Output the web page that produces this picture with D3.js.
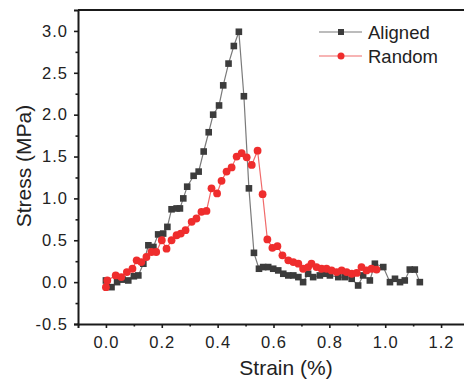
<!DOCTYPE html>
<html>
<head>
    <meta charset="utf-8">
    <style>
        body {
            margin: 0;
            background: white;
        }
        svg {
            display: block;
            font-family: Arial, 'Liberation Sans', sans-serif;
        }
        .tick text {
            font-size: 16.5px;
            letter-spacing: 1px;
            fill: #222;
        }
    </style>
</head>
<body>
    <svg width="464" height="387" id="chart"></svg>

<script src="https://d3js.org/d3.v7.min.js"></script>
<script>

    // Aligned sample
    let alignedStrain = [0.00, 0.02, 0.04, 0.06, 0.08, 0.10, 0.116, 0.134, 0.152, 0.17, 0.187, 0.205, 0.22, 0.235, 0.253, 0.265,
        0.277, 0.291, 0.314, 0.332, 0.350, 0.368, 0.384, 0.405, 0.420, 0.439, 0.458, 0.476, 0.494, 0.512, 0.530, 0.548,
        0.563, 0.581, 0.599, 0.617, 0.635, 0.653, 0.671, 0.689, 0.706, 0.724, 0.742, 0.766, 0.784, 0.802, 0.832, 0.856,
        0.880, 0.903, 0.921, 0.945, 0.963, 0.993, 1.017, 1.035, 1.053, 1.070, 1.088, 1.106, 1.124]
    let alignedStress = [0.02, -0.06, 0.00, 0.03, 0.02, 0.07, 0.08, 0.22, 0.44, 0.42, 0.57, 0.58, 0.66, 0.87, 0.88, 0.88,
        1.00, 1.14, 1.27, 1.32, 1.56, 1.79, 2.00, 2.11, 2.35, 2.61, 2.82, 2.99, 2.22, 1.12, 0.35, 0.16,
        0.18, 0.18, 0.16, 0.14, 0.10, 0.08, 0.08, 0.06, 0.00, 0.10, 0.06, 0.08, 0.10, 0.08, 0.06, 0.06,
        0.04, -0.04, 0.08, 0.02, 0.22, 0.18, 0.00, 0.04, 0.00, 0.02, 0.15, 0.15, 0.00]

    // Random sample
    let randomStrain = [0.000, 0.005, 0.035, 0.055, 0.075, 0.095, 0.110, 0.127, 0.145, 0.163, 0.180, 0.200, 0.217, 0.235,
        0.253, 0.268, 0.285, 0.307, 0.324, 0.342, 0.360, 0.378, 0.398, 0.414, 0.432, 0.450, 0.468, 0.486, 0.504,
        0.522, 0.543, 0.561, 0.578, 0.596, 0.614, 0.632, 0.653, 0.671, 0.689, 0.706, 0.724, 0.736, 0.754, 0.772,
        0.790, 0.808, 0.826, 0.844, 0.862, 0.880, 0.898, 0.915, 0.933, 0.951, 0.969]
    let randomStress = [-0.06, 0.02, 0.08, 0.06, 0.12, 0.16, 0.26, 0.24, 0.30, 0.36, 0.36, 0.50, 0.40, 0.50,
        0.56, 0.58, 0.62, 0.72, 0.76, 0.84, 0.85, 1.12, 1.06, 1.21, 1.32, 1.37, 1.50, 1.54, 1.49,
        1.40, 1.57, 1.05, 0.51, 0.41, 0.43, 0.32, 0.26, 0.24, 0.22, 0.16, 0.18, 0.22, 0.18, 0.16,
        0.16, 0.14, 0.12, 0.14, 0.12, 0.10, 0.11, 0.18, 0.14, 0.16, 0.15]

    let xTicks = [0.0, 0.2, 0.4, 0.6, 0.8, 1.0, 1.2]
    let xMinor = [0.1, 0.3, 0.5, 0.7, 0.9, 1.1]
    let yTicks = [-0.5, 0.0, 0.5, 1.0, 1.5, 2.0, 2.5, 3.0]
    let yMinor = [-0.25, 0.25, 0.75, 1.25, 1.75, 2.25, 2.75]

    let seriesNames = ["Aligned", "Random"]

    let plotLeft = 78, plotRight = 469, plotTop = 10, plotBottom = 324

    let svg = d3.select("#chart")

    let x = d3.scaleLinear().domain([-0.1, 1.3]).range([plotLeft, plotRight])
    let y = d3.scaleLinear().domain([-0.5, 3.25]).range([plotBottom, plotTop])

    let aligned = alignedStrain.map((d, i) => ({ x: d, y: alignedStress[i] }))
    let random = randomStrain.map((d, i) => ({ x: d, y: randomStress[i] }))

    let line = d3.line().x(d => x(d.x)).y(d => y(d.y))

    // plain hyphen for negatives, like the original
    let fmt = d => d.toFixed(1)

    // lines first, markers on top
    svg.append("path")
        .datum(aligned)
        .attr("d", line)
        .attr("fill", "none")
        .attr("stroke", "#7a7a7a")
        .attr("stroke-width", 1.2)

    svg.append("path")
        .datum(random)
        .attr("d", line)
        .attr("fill", "none")
        .attr("stroke", "#f06a6a")
        .attr("stroke-width", 1.2)

    svg.append("g")
        .selectAll("rect")
        .data(aligned)
        .join("rect")
        .attr("x", d => x(d.x) - 3.3)
        .attr("y", d => y(d.y) - 3.3)
        .attr("width", 6.6)
        .attr("height", 6.6)
        .attr("fill", "#3c3c3c")

    svg.append("g")
        .selectAll("circle")
        .data(random)
        .join("circle")
        .attr("cx", d => x(d.x))
        .attr("cy", d => y(d.y))
        .attr("r", 3.9)
        .attr("fill", "#ef2d2d")

    // axes
    svg.append("g")
        .attr("transform", "translate(0," + plotBottom + ")")
        .call(d3.axisBottom(x).tickValues(xTicks).tickFormat(fmt).tickSize(4).tickPadding(8))
    svg.append("g")
        .attr("transform", "translate(0," + plotBottom + ")")
        .call(d3.axisBottom(x).tickValues(xMinor).tickFormat("").tickSize(2.5))
        .select(".domain").remove()

    svg.append("g")
        .attr("transform", "translate(" + plotLeft + ",0)")
        .call(d3.axisLeft(y).tickValues(yTicks).tickFormat(fmt).tickSize(4).tickPadding(6))
    svg.append("g")
        .attr("transform", "translate(" + plotLeft + ",0)")
        .call(d3.axisLeft(y).tickValues(yMinor).tickFormat("").tickSize(2.5))
        .select(".domain").remove()

    svg.selectAll(".domain").attr("stroke", "#1a1a1a").attr("stroke-width", 2)
    svg.selectAll(".tick line").attr("stroke", "#1a1a1a").attr("stroke-width", 1.6)

    // top border
    svg.append("line")
        .attr("x1", plotLeft).attr("x2", plotRight)
        .attr("y1", plotTop).attr("y2", plotTop)
        .attr("stroke", "#1a1a1a")
        .attr("stroke-width", 2)

    // axis titles
    svg.append("text")
        .attr("x", 286)
        .attr("y", 375)
        .attr("text-anchor", "middle")
        .attr("font-size", 21)
        .attr("fill", "#222")
        .text("Strain (%)")

    svg.append("text")
        .attr("transform", "translate(31,166) rotate(-90)")
        .attr("text-anchor", "middle")
        .attr("font-size", 21)
        .attr("fill", "#222")
        .text("Stress (MPa)")

    // legend
    let legend = svg.append("g")
    legend.selectAll("line")
        .data(seriesNames)
        .join("line")
        .attr("x1", 319).attr("x2", 362)
        .attr("y1", (d, i) => 32 + i * 24)
        .attr("y2", (d, i) => 32 + i * 24)
        .attr("stroke", (d, i) => i == 0 ? "#7a7a7a" : "#f06a6a")
        .attr("stroke-width", 1.2)
    legend.append("rect")
        .attr("x", 338).attr("y", 29)
        .attr("width", 6).attr("height", 6)
        .attr("fill", "#3c3c3c")
    legend.append("circle")
        .attr("cx", 341).attr("cy", 56)
        .attr("r", 3.5)
        .attr("fill", "#ef2d2d")
    legend.selectAll("text")
        .data(seriesNames)
        .join("text")
        .attr("x", 368)
        .attr("y", (d, i) => 38.5 + i * 24)
        .attr("font-size", 18.5)
        .attr("fill", "#222")
        .text(d => d)

</script>
</body>
</html>
